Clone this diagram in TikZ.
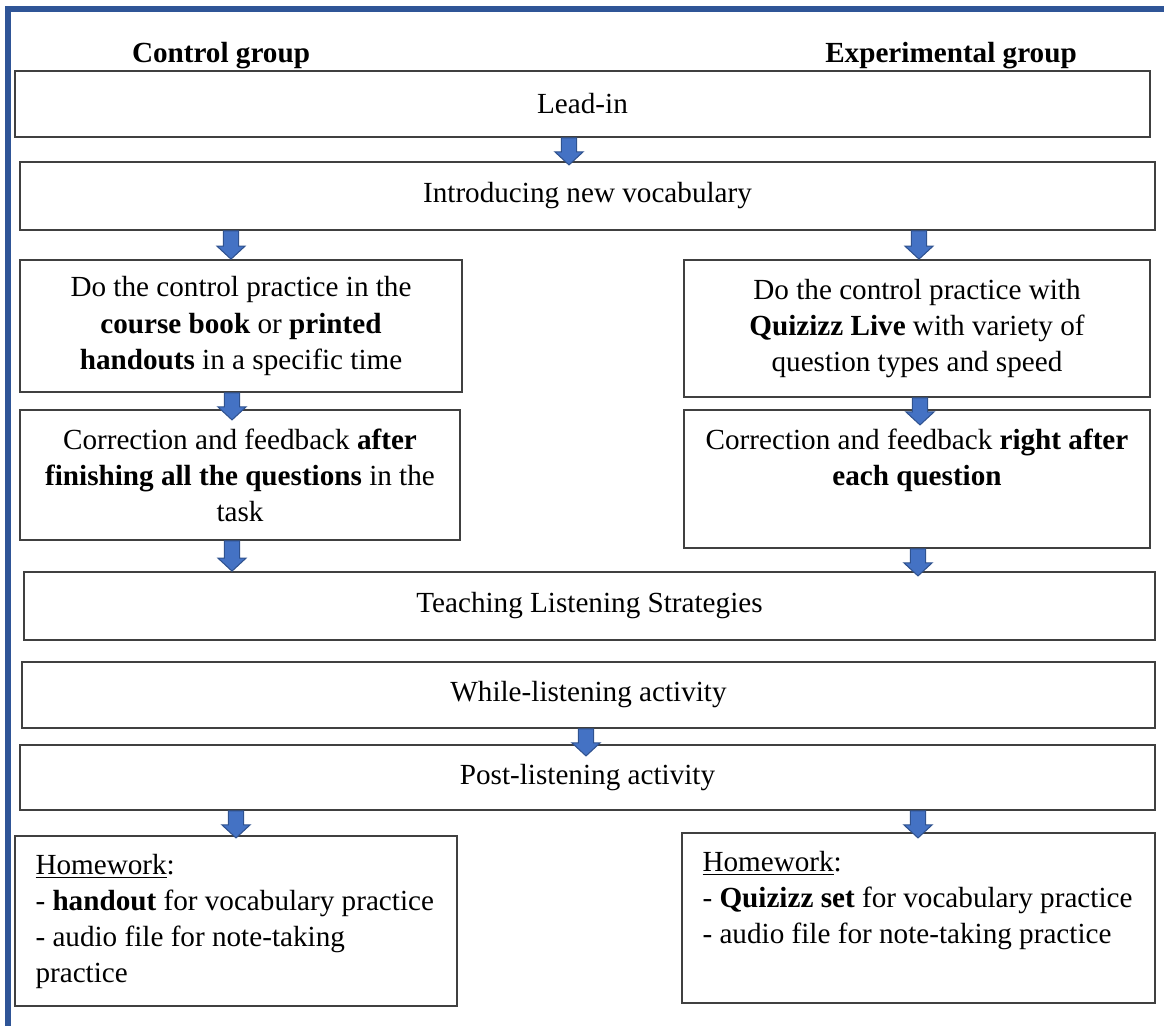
\documentclass[tikz,border=0pt]{standalone}
\usepackage{fontspec}
\setmainfont{Liberation Serif}
\usetikzlibrary{calc}
\definecolor{framebl}{HTML}{2F5597}
\definecolor{arrowfill}{HTML}{4472C4}
\definecolor{arrowline}{HTML}{2F528F}
\tikzset{
    flowbox/.style={draw=black!75, line width=1pt, align=center, inner sep=0pt},
    flowtext/.style={align=left, inner sep=0pt},
    blockarr/.style={fill=arrowfill, draw=arrowline, line width=0.6pt, line join=miter}
}
% fat arrow from the bottom of #1 down to the top of #2, at x = #3
\newcommand\blockarrow[3]{%
    \draw[blockarr] let \p1=(#1.south), \p2=(#2.north), \p3=(#3,0),
        \n1={min(\y2,\y1-15.4pt)}, \n2={\n1+7.4pt} in
        (\x3-4.3pt,\y1) -- (\x3+4.3pt,\y1) -- (\x3+4.3pt,\n2) -- (\x3+8pt,\n2)
        -- (\x3,\n1) -- (\x3-8pt,\n2) -- (\x3-4.3pt,\n2) -- cycle;
}

\begin{document}
\begin{tikzpicture}[x=0.02cm, y=-0.02cm, font=\fontsize{16.6}{20.5}\selectfont]

    \useasboundingbox (0,0) rectangle (1164,1026);

    \draw[framebl, line width=0.12cm] (8,1026) -- (8,9) -- (1164,9);

    \node[font=\fontsize{16.6}{20.5}\selectfont\bfseries] (ctrlhead) at (221,56) {Control group};
    \node[font=\fontsize{16.6}{20.5}\selectfont\bfseries] (exphead) at (951,56) {Experimental group};

    \node[flowbox, minimum width=22.7cm, minimum height=1.32cm] (lead) at (582.5,104) {Lead-in};
    \node[flowbox, minimum width=22.7cm, minimum height=1.36cm] (intro) at (587.5,196) {Introducing new vocabulary};

    % the two groups
    \node[flowbox, minimum width=8.84cm, minimum height=2.64cm] (ctrl1) at (241,326)
        {Do the control practice in the\\ \textbf{course book} or \textbf{printed}\\ \textbf{handouts} in a specific time};
    \node[flowbox, minimum width=9.32cm, minimum height=2.74cm] (exp1) at (917,328.5)
        {Do the control practice with\\ \textbf{Quizizz Live} with variety of\\ question types and speed};

    \node[flowbox, minimum width=8.8cm, minimum height=2.6cm] (ctrl2) at (240,475)
        {Correction and feedback \textbf{after}\\ \textbf{finishing all the questions} in the\\ task};
    \node[flowbox, minimum width=9.32cm, minimum height=2.76cm] (exp2) at (917,479) {};
    \node[align=center, inner sep=0pt, anchor=north] (exp2txt) at ($(exp2.north)+(0,19)$)
        {Correction and feedback \textbf{right after}\\ \textbf{each question}};

    \node[flowbox, minimum width=22.62cm, minimum height=1.36cm] (teach) at (589.5,606) {Teaching Listening Strategies};
    \node[flowbox, minimum width=22.66cm, minimum height=1.32cm] (while) at (588.5,695) {While-listening activity};
    \node[flowbox, minimum width=22.7cm, minimum height=1.3cm] (post) at (587.5,777.5) {Post-listening activity};

    % homework
    \node[flowbox, minimum width=8.84cm, minimum height=3.4cm] (hwc) at (236,921) {};
    \node[flowtext, anchor=north west] (hwctxt) at ($(hwc.north west)+(21,19)$)
        {\underline{Homework}:\\ - \textbf{handout} for vocabulary practice\\ - audio file for note-taking\\ practice};
    \node[flowbox, minimum width=9.46cm, minimum height=3.4cm] (hwe) at (918.5,918) {};
    \node[flowtext, anchor=north west] (hwetxt) at ($(hwe.north west)+(21,19)$)
        {\underline{Homework}:\\ - \textbf{Quizizz set} for vocabulary practice\\ - audio file for note-taking practice};

    \blockarrow{lead}{intro}{569}
    \blockarrow{intro}{ctrl1}{231}
    \blockarrow{intro}{exp1}{919}
    \blockarrow{ctrl1}{ctrl2}{232}
    \blockarrow{exp1}{exp2}{920}
    \blockarrow{ctrl2}{teach}{232}
    \blockarrow{exp2}{teach}{918}
    \blockarrow{while}{post}{586}
    \blockarrow{post}{hwc}{236}
    \blockarrow{post}{hwe}{918}

\end{tikzpicture}
\end{document}
